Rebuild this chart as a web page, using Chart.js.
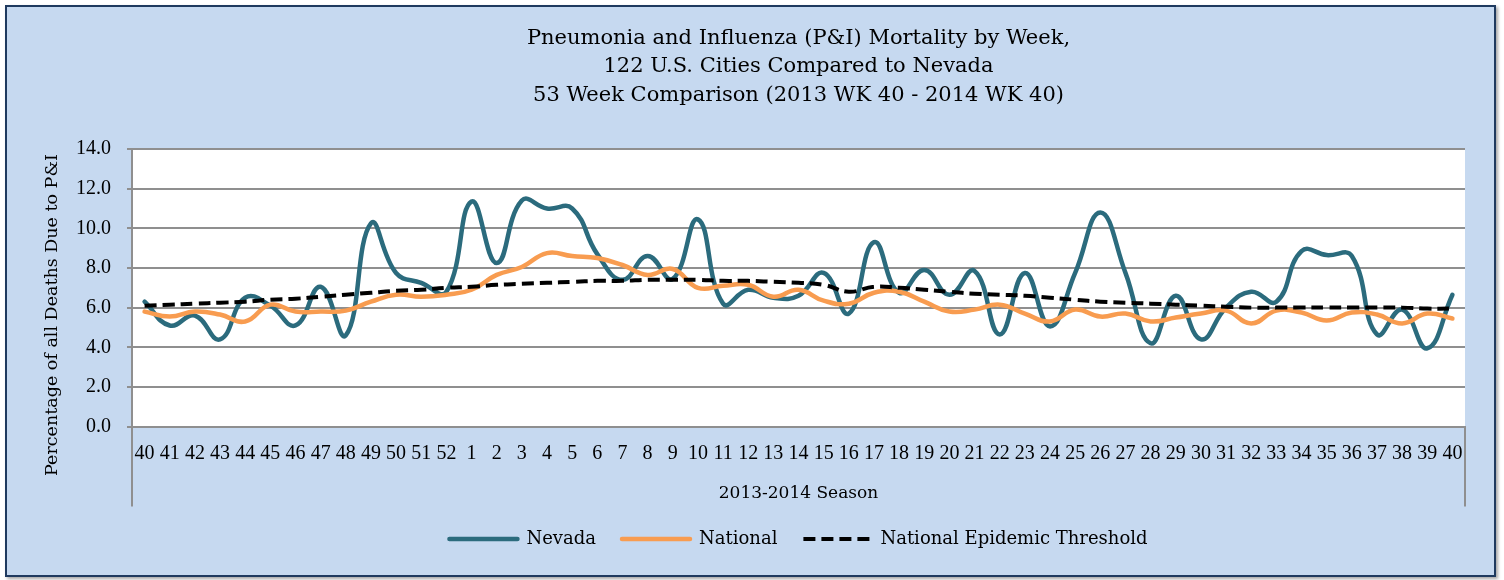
<!DOCTYPE html>
<html>
<head>
<meta charset="utf-8">
<title>P&amp;I Mortality by Week</title>
<script src="https://cdn.jsdelivr.net/npm/chart.js@4.4.1/dist/chart.umd.min.js"></script>
<style>
  html, body { margin: 0; padding: 0; background: #fff; }
  #frame {
    position: absolute; left: 5px; top: 5px;
    width: 1487px; height: 568px;
    border: 2px solid #1f3a5f;
    background: #c6d9f0;
    box-shadow: 2px 2px 3px rgba(0, 0, 0, 0.35);
  }
  #frame canvas { display: block; }
</style>
</head>
<body>
<div id="frame"><canvas id="piChart" width="1487" height="568"></canvas></div>
<script>
// week labels, 2013 WK 40 -> 2014 WK 40
const weeks = ['40', '41', '42', '43', '44', '45', '46', '47', '48', '49', '50', '51', '52',
  '1', '2', '3', '4', '5', '6', '7', '8', '9', '10', '11', '12', '13', '14', '15', '16', '17', '18', '19', '20',
  '21', '22', '23', '24', '25', '26', '27', '28', '29', '30', '31', '32', '33', '34', '35', '36', '37', '38', '39', '40'];

// % of all deaths due to P&I
const nevada = [6.3, 5.1, 5.6, 4.4, 6.5, 6.1, 5.1, 7.05, 4.6, 10.25, 7.75, 7.25, 6.8,
  11.35, 8.25, 11.4, 11.0, 11.0, 8.7, 7.4, 8.6, 7.45, 10.45,
  6.2, 6.9, 6.5, 6.6, 7.75, 5.7, 9.3, 6.75, 7.9, 6.65,
  7.85, 4.65, 7.75, 5.05, 7.75, 10.8, 7.75, 4.2, 6.6, 4.4,
  6.0, 6.8, 6.3, 8.85, 8.65, 8.6, 4.65, 5.9, 3.95, 6.65];

const national = [5.8, 5.55, 5.8, 5.65, 5.3, 6.15, 5.8, 5.8, 5.85, 6.3, 6.65, 6.55, 6.65,
  6.9, 7.65, 8.05, 8.75, 8.6, 8.5, 8.15, 7.65, 7.95, 7.0,
  7.1, 7.15, 6.55, 6.9, 6.35, 6.2, 6.75, 6.8, 6.3, 5.8,
  5.9, 6.15, 5.7, 5.3, 5.9, 5.55, 5.7, 5.3, 5.5, 5.7,
  5.85, 5.2, 5.85, 5.75, 5.35, 5.75, 5.65, 5.2, 5.7, 5.45];

const threshold = [6.1, 6.15, 6.2, 6.25, 6.3, 6.4, 6.45, 6.55, 6.65, 6.75, 6.85, 6.9, 7.0,
  7.05, 7.15, 7.2, 7.25, 7.3, 7.35, 7.35, 7.4, 7.4, 7.4,
  7.35, 7.35, 7.3, 7.25, 7.15, 6.8, 7.05, 7.0, 6.9, 6.8,
  6.7, 6.65, 6.6, 6.5, 6.4, 6.3, 6.25, 6.2, 6.15, 6.1,
  6.05, 6.0, 6.0, 6.0, 6.0, 6.0, 6.0, 6.0, 5.95, 5.95];

const yTicks = [0, 2, 4, 6, 8, 10, 12, 14];

const titleLines = [
  'Pneumonia and Influenza (P&I) Mortality by Week,',
  '122 U.S. Cities Compared to Nevada',
  '53 Week Comparison (2013 WK 40 - 2014 WK 40)'
];
const yAxisTitle = 'Percentage of all Deaths Due to P&I';
const xAxisTitle = '2013-2014 Season';

const gridGrey = '#8f8f8f';

// white plot area, the two box edges under the x axis, and the y axis title
// (the title sits lower than chart.js would centre it, so it is drawn here)
const frameBits = {
  id: 'frameBits',
  beforeDraw(chart) {
    const { ctx, chartArea: a } = chart;
    ctx.save();
    ctx.fillStyle = '#fff';
    ctx.fillRect(a.left, a.top, a.right - a.left, a.bottom - a.top);
    ctx.restore();
  },
  afterDraw(chart) {
    const { ctx, chartArea: a } = chart;
    ctx.save();
    ctx.strokeStyle = gridGrey;
    ctx.lineWidth = 2;
    ctx.beginPath();
    ctx.moveTo(a.left, a.bottom);
    ctx.lineTo(a.left, a.bottom + 80);
    ctx.moveTo(a.right, a.bottom);
    ctx.lineTo(a.right, a.bottom + 80);
    ctx.stroke();

    ctx.translate(45, 308);
    ctx.rotate(-Math.PI / 2);
    ctx.font = '17.5px "DejaVu Serif"';
    ctx.fillStyle = '#000';
    ctx.textAlign = 'center';
    ctx.textBaseline = 'middle';
    ctx.fillText(yAxisTitle, 0, 0);
    ctx.restore();
  }
};

// legend items built with usePointStyle lose the dataset dash, put it back
const legendLabels = chart =>
  Chart.defaults.plugins.legend.labels.generateLabels(chart).map(item => {
    const ds = chart.data.datasets[item.datasetIndex];
    item.lineDash = ds.borderDash || [];
    item.lineWidth = ds.borderWidth;
    item.lineCap = ds.borderCapStyle;
    return item;
  });

const ctx = document.getElementById('piChart').getContext('2d');

new Chart(ctx, {
  type: 'line',
  data: {
    labels: weeks,
    datasets: [
      {
        label: 'Nevada',
        data: nevada,
        borderColor: '#2b6b7d',
        borderWidth: 4.5,
        borderCapStyle: 'round',
        tension: 0.45,
        pointRadius: 0,
        order: 2
      },
      {
        label: 'National',
        data: national,
        borderColor: '#f89c50',
        borderWidth: 4.5,
        borderCapStyle: 'round',
        tension: 0.45,
        pointRadius: 0,
        order: 1
      },
      {
        label: 'National Epidemic Threshold',
        data: threshold,
        borderColor: '#000',
        borderWidth: 4,
        borderDash: [12, 6],
        borderCapStyle: 'butt',
        tension: 0.45,
        pointRadius: 0,
        order: 0
      }
    ]
  },
  plugins: [frameBits],
  options: {
    responsive: false,
    animation: false,
    layout: { padding: { left: 55, right: 29, top: 0, bottom: 17 } },
    plugins: {
      title: {
        display: true,
        fullSize: false,
        text: titleLines,
        color: '#000',
        font: { family: 'DejaVu Serif', size: 21, weight: 'normal', lineHeight: 1.357 },
        padding: { top: 17, bottom: 39.5 }
      },
      legend: {
        position: 'bottom',
        fullSize: false,
        labels: {
          usePointStyle: true,
          pointStyle: 'line',
          pointStyleWidth: 68,
          color: '#000',
          font: { family: 'DejaVu Serif', size: 18 },
          padding: 26,
          generateLabels: legendLabels,
          sort: (a, b) => a.datasetIndex - b.datasetIndex
        }
      },
      tooltip: { enabled: false }
    },
    scales: {
      x: {
        offset: true,
        grid: { display: false },
        border: { color: gridGrey, width: 2 },
        ticks: {
          autoSkip: false,
          maxRotation: 0,
          padding: 7,
          color: '#000',
          font: { family: 'Liberation Serif', size: 20 }
        },
        title: {
          display: true,
          text: xAxisTitle,
          color: '#000',
          font: { family: 'DejaVu Serif', size: 17 },
          padding: { top: 11, bottom: 0 }
        }
      },
      y: {
        min: 0,
        max: 14,
        afterFit: s => { s.width = 70; },
        afterBuildTicks: s => { s.ticks = yTicks.map(v => ({ value: v })); },
        grid: { color: gridGrey, lineWidth: 2, tickLength: 5 },
        border: { color: gridGrey, width: 2 },
        ticks: {
          padding: 16,
          color: '#000',
          font: { family: 'Liberation Serif', size: 20 },
          callback: v => Number(v).toFixed(1)
        }
      }
    }
  }
});
</script>
</body>
</html>
